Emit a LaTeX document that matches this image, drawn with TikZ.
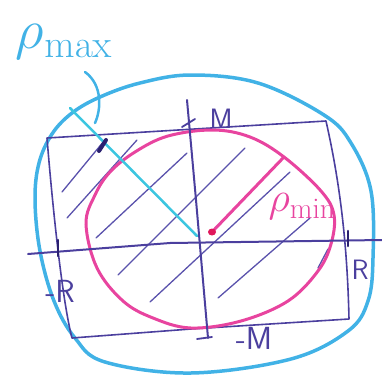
\documentclass[tikz,border=0pt]{standalone}
\usepackage{fix-cm}
\definecolor{skyb}{HTML}{41B2E6}
\definecolor{cyanl}{HTML}{3CC6E0}
\definecolor{purp}{HTML}{4B3F9E}
\definecolor{hatchc}{HTML}{5A52AC}
\definecolor{magen}{HTML}{E8449F}
\definecolor{reddot}{HTML}{E0185C}
\definecolor{darkb}{HTML}{2A2070}
\begin{document}
\begin{tikzpicture}[x=1pt,y=-1pt,
  outer/.style={draw=skyb,line width=3.5pt,line join=round},
  rectline/.style={draw=purp,line width=1.6pt,line join=round,line cap=round},
  axisline/.style={draw=purp,line width=2pt,line cap=round},
  hatchline/.style={draw=hatchc,line width=1.3pt,line cap=round},
  ell/.style={draw=magen,line width=3pt},
  tickmark/.style={draw=darkb,line width=2.6pt,line cap=round},
  axlabel/.style={text=purp,font=\fontsize{28}{28}\selectfont\sffamily,inner sep=0pt}]
\useasboundingbox (0,0) rectangle (382,383);
% outer sky-blue contour
\draw[outer] plot[smooth cycle,tension=0.6] coordinates {(191,75) (258,83) (324,115) (351,143) (371,191) (373,258) (368,301) (348,331) (291,359) (191,373) (105,362) (75,338) (54,301) (40,251) (35,200) (39,163) (52,134) (72,113) (100,97) (140,83)};
% hatch lines
\draw[hatchline] (62,192) -- (104,141);
\draw[hatchline] (67,218) -- (137,140);
\draw[hatchline] (96,238) -- (187,153);
\draw[hatchline] (118,275) -- (245,148);
\draw[hatchline] (150,302) -- (290,172);
\draw[hatchline] (218,298) -- (310,218);
\draw[hatchline] (318,268) -- (328,249);
% rectangle
\coordinate (tl) at (47,138);
\coordinate (tr) at (326,121);
\coordinate (br) at (349,319);
\coordinate (bl) at (72,338);
\draw[rectline] (tl) -- (tr) .. controls (337,170) and (347,230) .. (br) -- (191,329) -- (bl) .. controls (62,300) and (52,200) .. (tl);
% magenta ellipse
\draw[ell] plot[smooth cycle,tension=0.6] coordinates {(213,130) (250,137) (284,157) (321,191) (334,215) (331,244) (318,271) (288,301) (241,321) (191,328) (153,318) (123,301) (97,268) (86,224) (95,195) (110,172) (135,152) (168,136)};
% axes
\coordinate (xl) at (28,254);
\coordinate (xr) at (382,240);
\coordinate (yt) at (187,100);
\coordinate (yb) at (208,338);
\draw[axisline] (xl) -- (170,243) -- (xr);
\draw[axisline] (yt) -- (196,200) -- (yb);
% ticks
\draw[tickmark] (58,240) -- (58,256);
\draw[tickmark] (348,231) -- (348,246);
\draw[purp,line width=1.8pt,line cap=round] (182,127) -- (195,119);
\draw[purp,line width=1.8pt,line cap=round] (197,339) -- (212,337);
% centre, radii
\coordinate (c) at (212,232);
\coordinate (pmaxend) at (70,108);
\coordinate (pminend) at (284,157);
\draw[cyanl,line width=2.5pt,line cap=round] (pmaxend) -- (197,236);
\draw[magen,line width=3pt,line cap=round] (c) -- (pminend);
\fill[reddot] (c) ellipse [x radius=4pt,y radius=3.5pt];
\draw[tickmark,line width=4pt] (99,151) -- (106,140);
% labels
\node[text=skyb,inner sep=0pt,font=\fontsize{56}{56}\selectfont] (pmax) at (64,42) {$\rho_{\mathrm{max}}$};
\coordinate (ptr0) at (85,72);
\coordinate (ptr1) at (95,123);
\draw[skyb,line width=2.5pt,line cap=round] (ptr0) .. controls (103,85) and (101,110) .. (ptr1);
\node[text=magen,inner sep=0pt,font=\fontsize{42}{42}\selectfont] (pmin) at (302,207) {$\rho_{\mathrm{min}}$};
\node[axlabel] (lm) at (221,119) {M};
\node[axlabel,font=\fontsize{32}{32}\selectfont\sffamily] (lmm) at (254,338) {-M};
\node[axlabel] (lr) at (360,270) {R};
\node[axlabel,font=\fontsize{32}{32}\selectfont\sffamily] (lrr) at (60,291) {-R};
\end{tikzpicture}
\end{document}
